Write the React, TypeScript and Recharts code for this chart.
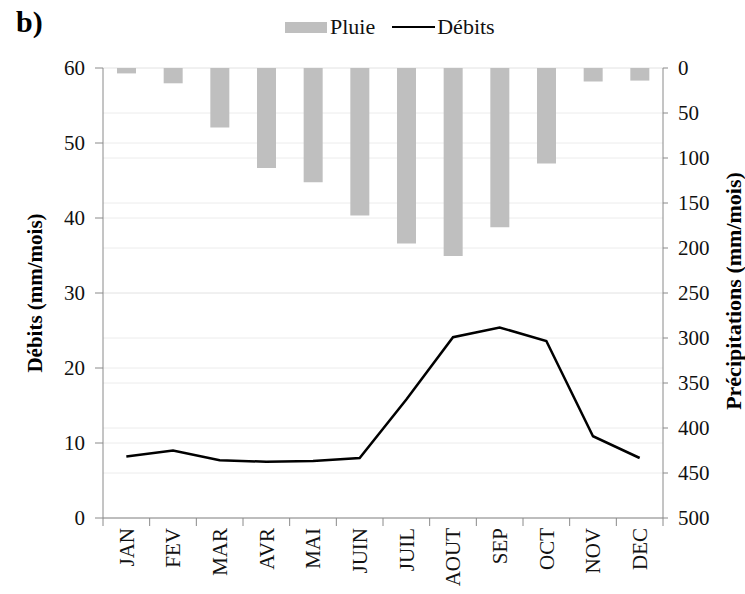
import React from "react";
import { ComposedChart, Bar, Line, XAxis, YAxis, CartesianGrid, Legend, Label } from "recharts";

const MONTHS = ["JAN", "FEV", "MAR", "AVR", "MAI", "JUIN", "JUIL", "AOUT", "SEP", "OCT", "NOV", "DEC"];
const PLUIE = [6, 17, 66, 111, 127, 164, 195, 209, 177, 106, 15, 14];
const DEBITS = [8.2, 9.0, 7.7, 7.5, 7.6, 8.0, 15.8, 24.1, 25.4, 23.6, 10.9, 8.0];
const LEFT_TICKS = [0, 10, 20, 30, 40, 50, 60];
const RIGHT_TICKS = [0, 50, 100, 150, 200, 250, 300, 350, 400, 450, 500];

const FONT = "Liberation Serif, serif";
const AXIS = "#8a8a8a";
const BAR = "#bfbfbf";
const TICK_STYLE = { fontFamily: FONT, fontSize: 21, fill: "#111" };

const data = MONTHS.map((m, i) => ({ month: m, pluie: PLUIE[i], debits: DEBITS[i] }));

function MonthTick(props: any) {
  const { x, y, payload, index } = props;
  const half = payload && payload.offset ? payload.offset : 23.3;
  return (
    <g>
      <line x1={x - half} y1={y} x2={x - half} y2={y + 8} stroke={AXIS} />
      {index === MONTHS.length - 1 && (
        <line x1={x + half} y1={y} x2={x + half} y2={y + 8} stroke={AXIS} />
      )}
      <text
        x={x}
        y={y + 10}
        dy="0.35em"
        transform={`rotate(-90, ${x}, ${y + 10})`}
        textAnchor="end"
        style={{ fontFamily: FONT, fontSize: 21, fill: "#111" }}
      >
        {payload.value}
      </text>
    </g>
  );
}

function LegendBox(props: any) {
  const items = [...(props.payload || [])].sort(
    (a: any, b: any) => (a.type === "line" ? 1 : 0) - (b.type === "line" ? 1 : 0)
  );
  return (
    <div style={{ display: "flex", alignItems: "center", fontFamily: FONT, fontSize: 22, color: "#111" }}>
      {items.map((it: any) =>
        it.type === "line" ? (
          <div key={it.value} style={{ display: "flex", alignItems: "center" }}>
            <div style={{ width: 43, height: 2.5, background: "#000", marginRight: 2 }} />
            <span>{it.value}</span>
          </div>
        ) : (
          <div key={it.value} style={{ display: "flex", alignItems: "center", marginRight: 17 }}>
            <div style={{ width: 42, height: 11, background: BAR, marginRight: 3 }} />
            <span>{it.value}</span>
          </div>
        )
      )}
    </div>
  );
}

export default function App() {
  return (
    <div style={{ position: "absolute", left: 0, top: 0, width: 745, height: 594, background: "#fff" }}>
      <div
        style={{
          position: "absolute",
          left: 16,
          top: 5,
          fontFamily: FONT,
          fontWeight: "bold",
          fontSize: 30,
          color: "#000",
        }}
      >
        b)
      </div>
      <ComposedChart
        width={745}
        height={594}
        data={data}
        margin={{ top: 68, right: 0, bottom: 0, left: 0 }}
      >
        <CartesianGrid yAxisId="left" vertical={false} stroke="#ececec" />
        <CartesianGrid yAxisId="right" vertical={false} stroke="#ececec" />
        <XAxis
          dataKey="month"
          height={76}
          interval={0}
          axisLine={{ stroke: AXIS }}
          tickLine={false}
          tickSize={0}
          tickMargin={0}
          tick={<MonthTick />}
        />
        <YAxis
          yAxisId="left"
          width={103}
          domain={[0, 60]}
          ticks={LEFT_TICKS}
          interval={0}
          axisLine={{ stroke: AXIS }}
          tickLine={{ stroke: AXIS }}
          tickSize={8}
          tickMargin={10}
          tick={TICK_STYLE}
        >
          <Label
            value="Débits (mm/mois)"
            angle={-90}
            position="center"
            dx={-17}
            style={{ fontFamily: FONT, fontSize: 21, fontWeight: "bold", fill: "#000", textAnchor: "middle" }}
          />
        </YAxis>
        <YAxis
          yAxisId="right"
          orientation="right"
          width={82}
          reversed
          domain={[0, 500]}
          ticks={RIGHT_TICKS}
          interval={0}
          axisLine={{ stroke: AXIS }}
          tickLine={{ stroke: AXIS }}
          tickSize={5}
          tickMargin={10}
          tick={TICK_STYLE}
        >
          <Label
            value="Précipitations (mm/mois)"
            angle={-90}
            position="center"
            dx={29}
            dy={-2}
            style={{ fontFamily: FONT, fontSize: 22, fontWeight: "bold", fill: "#000", textAnchor: "middle" }}
          />
        </YAxis>
        <Legend
          verticalAlign="middle"
          layout="horizontal"
          wrapperStyle={{ top: 14, left: 285, width: 300, height: 26 }}
          content={<LegendBox />}
        />
        <Bar yAxisId="right" dataKey="pluie" name="Pluie" fill={BAR} barSize={19} isAnimationActive={false} />
        <Line
          yAxisId="left"
          type="linear"
          dataKey="debits"
          name="Débits"
          stroke="#000"
          strokeWidth={2.5}
          dot={false}
          legendType="line"
          isAnimationActive={false}
        />
      </ComposedChart>
    </div>
  );
}
